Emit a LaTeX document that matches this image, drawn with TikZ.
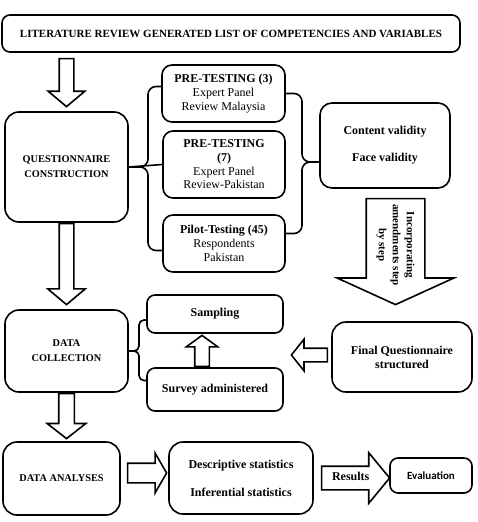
\documentclass[tikz,border=0pt]{standalone}
\usepackage{fontspec}
\setmainfont{Liberation Serif}
\newfontfamily\calib{Carlito}
\usetikzlibrary{shapes.arrows, calc}

\newcommand{\bigb}{\fontsize{12}{14}\selectfont\bfseries}
\newcommand{\capb}{\fontsize{10.3}{15}\selectfont\bfseries}
\newcommand{\norm}{\fontsize{12}{13.7}\selectfont}
\newcommand{\tb}{\fontsize{12}{13.7}\selectfont\bfseries}

\tikzstyle{box} = [rectangle, rounded corners = 10pt, draw = black, line width = 1.6pt, 
	align = center, inner sep = 2pt]
\tikzstyle{fat} = [single arrow, draw = black, line width = 1.6pt, anchor = tail, 
	inner xsep = 0pt, minimum width = 0pt]
\tikzstyle{brace} = [line width = 1.6pt, rounded corners = 8pt]

\begin{document}
\begin{tikzpicture}[x = 1pt, y = -1pt]
\useasboundingbox (0,0) rectangle (477,522);

\node (lit) [box, rounded corners = 8pt, minimum width = 458pt, minimum height = 37pt, 
	font = \fontsize{11}{12}\selectfont\bfseries] at (231,33.5)
	{LITERATURE REVIEW GENERATED LIST OF COMPETENCIES AND VARIABLES};

% left column
\node (quest) [box, rounded corners = 14pt, minimum width = 123pt, minimum height = 110pt, 
	font = \capb] at (66.5,167) {QUESTIONNAIRE\\CONSTRUCTION};
\node (dcol) [box, rounded corners = 14pt, minimum width = 123pt, minimum height = 82pt, 
	font = \capb] at (66.5,351) {DATA\\COLLECTION};
\node (dana) [box, rounded corners = 14pt, minimum width = 117pt, minimum height = 73pt, 
	font = \capb] at (61.5,478.5) {DATA ANALYSES};

% testing boxes
\node (pre3) [box, minimum width = 123pt, minimum height = 57pt, font = \norm] at (223.5,93.5)
	{{\tb PRE-TESTING (3)}\\Expert Panel\\Review Malaysia};
\node (pre7) [box, minimum width = 122pt, minimum height = 67pt, font = \norm] at (224,164.5)
	{{\tb PRE-TESTING}\\{\tb (7)}\\Expert Panel\\Review-Pakistan};
\node (pilot) [box, minimum width = 122pt, minimum height = 57pt, font = \norm] at (224,243.5)
	{{\tb Pilot-Testing (45)}\\Respondents\\Pakistan};

\node (valid) [box, rounded corners = 12pt, minimum width = 130pt, minimum height = 85pt, 
	font = \bigb] at (385,145.5) {Content validity\\[13pt]Face validity};

% collection
\node (samp) [box, rounded corners = 8pt, minimum width = 136pt, minimum height = 38pt, 
	font = \bigb] at (215,314) {Sampling};
\node (surv) [box, rounded corners = 8pt, minimum width = 136pt, minimum height = 43pt, 
	font = \bigb] at (215,389.5) {Survey administered};
\node (final) [box, rounded corners = 14pt, minimum width = 140pt, minimum height = 70pt, 
	font = \bigb] at (402,357) {Final Questionnaire\\structured};

% analyses
\node (stats) [box, rounded corners = 14pt, minimum width = 144pt, minimum height = 72pt, 
	font = \bigb] at (241,478) {Descriptive statistics\\[14pt]Inferential statistics};
\node (evalu) [box, rounded corners = 8pt, minimum width = 82pt, minimum height = 35pt, 
	font = \calib\fontsize{11}{13}\selectfont\bfseries] at (431,475.5) {Evaluation};

% block arrows
\node (a1) [fat, rotate = -90, minimum height = 48pt, inner ysep = 6.5pt, 
	single arrow head extend = 11pt, single arrow tip angle = 100] 
	at ($(quest.north |- lit.south)+(0,5)$) {};
\node (a2) [fat, rotate = -90, minimum height = 81pt, inner ysep = 6.5pt, 
	single arrow head extend = 11.5pt, single arrow tip angle = 100] at (quest.south) {};
\node (a3) [fat, rotate = -90, minimum height = 45pt, inner ysep = 7pt, 
	single arrow head extend = 11.5pt, single arrow tip angle = 104] at (dcol.south) {};
\node (a4) [fat, rotate = -90, minimum height = 106pt, inner ysep = 9.5pt, align = center, 
	single arrow head extend = 29pt, single arrow tip angle = 131, 
	font = \fontsize{11}{14}\selectfont\bfseries] at ($(valid.south)+(10.5,9)$)
	{Incorporating\\amendments step\\by step};
\node (a5) [fat, rotate = 180, minimum height = 36pt, inner ysep = 6pt, 
	single arrow head extend = 9pt, single arrow tip angle = 103] at ($(final.west)+(-3,-2)$) {};
\node (a6) [fat, rotate = 90, minimum height = 31pt, inner ysep = 6.5pt, 
	single arrow head extend = 8.5pt, single arrow tip angle = 108] at ($(surv.north)+(-13,0)$) {};
\node (a7) [fat, minimum height = 39pt, inner ysep = 9pt, 
	single arrow head extend = 10pt, single arrow tip angle = 120] at ($(dana.east)+(6,-5.5)$) {};
\node (a8) [fat, minimum height = 68pt, text height = 8pt, text depth = 3pt, inner ysep = 5.5pt, 
	inner xsep = 4pt, single arrow head extend = 13.5pt, single arrow tip angle = 101, 
	font = \bigb] at ($(stats.east)+(7,0)$) {Results};

% braces
\draw [brace] ([yshift = 7pt]pre3.west) -| (148,167) -- (quest.east);
\draw [brace] ([yshift = -7pt]pilot.west) -| (148,167) -- (quest.east);
\draw [brace] (pre7.west) -- (quest.east);
\draw [brace] (pre3.east) -| (302,162) -- (valid.west |- 0,162);
\draw [brace] ([yshift = 10pt]pilot.east) -| (302,162) -- (valid.west |- 0,162);
\draw [brace, rounded corners = 5pt] ([yshift = -6pt]samp.west) -| (139,351) -- (dcol.east);
\draw [brace, rounded corners = 5pt] ([yshift = 9pt]surv.west) -| (139,351) -- (dcol.east);
\end{tikzpicture}
\end{document}
